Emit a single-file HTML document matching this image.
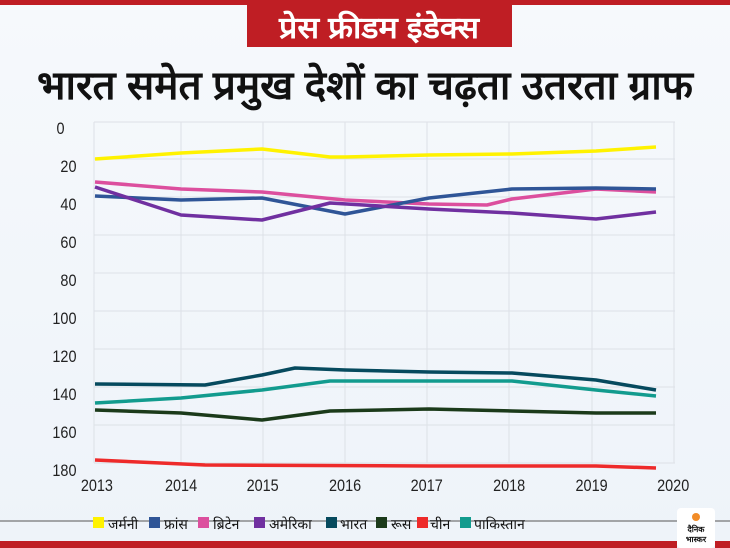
<!DOCTYPE html>
<html><head><meta charset="utf-8"><style>
body{margin:0;width:730px;height:548px;background:#f1f5fa;overflow:hidden;position:relative;font-family:"Liberation Sans","Noto Sans CJK SC",sans-serif}
</style></head><body>
<svg width="730" height="548" style="position:absolute;left:0;top:0" font-family="Liberation Sans, Noto Sans CJK SC, sans-serif">
<defs><linearGradient id="bg" x1="0" y1="0" x2="0" y2="1"><stop offset="0" stop-color="#f6f9fc"/><stop offset="1" stop-color="#eef3f9"/></linearGradient></defs>
<rect width="730" height="548" fill="url(#bg)"/>
<rect x="0" y="0" width="730" height="5" fill="#bf1e24"/>
<rect x="247" y="5" width="265" height="42" fill="#bf1e24"/>
<text x="379" y="38" font-size="30" font-weight="bold" fill="#fff" text-anchor="middle" textLength="200" lengthAdjust="spacingAndGlyphs">प्रेस फ्रीडम इंडेक्स</text>
<text x="365" y="99" font-size="40" font-weight="bold" fill="#111" text-anchor="middle" textLength="656" lengthAdjust="spacingAndGlyphs">भारत समेत प्रमुख देशों का चढ़ता उतरता ग्राफ</text>
<g stroke="#dde1e7" stroke-width="1">
<line x1="94" y1="122" x2="675" y2="122"/><line x1="94" y1="159" x2="675" y2="159"/><line x1="94" y1="197" x2="675" y2="197"/><line x1="94" y1="235" x2="675" y2="235"/><line x1="94" y1="273" x2="675" y2="273"/><line x1="94" y1="311" x2="675" y2="311"/><line x1="94" y1="349" x2="675" y2="349"/><line x1="94" y1="387" x2="675" y2="387"/><line x1="94" y1="425" x2="675" y2="425"/><line x1="94" y1="463" x2="675" y2="463"/>
<line x1="94" y1="122" x2="94" y2="463"/><line x1="181" y1="122" x2="181" y2="463"/><line x1="263" y1="122" x2="263" y2="463"/><line x1="345" y1="122" x2="345" y2="463"/><line x1="427" y1="122" x2="427" y2="463"/><line x1="509" y1="122" x2="509" y2="463"/><line x1="592" y1="122" x2="592" y2="463"/><line x1="674" y1="122" x2="674" y2="463"/>
</g>
<g font-size="17" fill="#222" text-anchor="end" transform="scale(0.85,1)">
<text x="76" y="134">0</text><text x="90" y="172">20</text><text x="90" y="210">40</text><text x="90" y="248">60</text><text x="90" y="286">80</text><text x="90" y="324">100</text><text x="90" y="362">120</text><text x="90" y="400">140</text><text x="90" y="438">160</text><text x="90" y="476">180</text>
</g>
<g font-size="17" fill="#222" text-anchor="middle" transform="scale(0.85,1)">
<text x="114" y="491">2013</text><text x="213" y="491">2014</text><text x="309" y="491">2015</text><text x="406" y="491">2016</text><text x="502" y="491">2017</text><text x="599" y="491">2018</text><text x="696" y="491">2019</text><text x="792" y="491">2020</text>
</g>
<g fill="none" stroke-width="3.5" stroke-linejoin="round">
<polyline stroke="#fff200" points="95,159 181,153 262,149 330,157 345,157 429,155 512,154 596,151 656,147"/>
<polyline stroke="#dc4f9e" points="95,182 181,189 262,192 345,200 429,204 487,205 512,199 596,189 656,192"/>
<polyline stroke="#2f5597" points="95,196 181,200 262,198 345,214 429,198 512,189 596,188 656,189"/>
<polyline stroke="#7030a0" points="95,187 181,215 262,220 330,203 429,209 512,213 596,219 656,212"/>
<polyline stroke="#064a5e" points="95,384 205,385 262,375 295,368 345,370 429,372 512,373 596,380 656,390"/>
<polyline stroke="#129b8e" points="95,403 181,398 262,390 330,381 429,381 512,381 596,390 656,396"/>
<polyline stroke="#1b3a1a" points="95,410 181,413 262,420 330,411 429,409 512,411 596,413 656,413"/>
<polyline stroke="#ee2a2a" points="95,460 205,465 429,466 596,466 656,468"/>
</g>
<line x1="0" y1="521" x2="730" y2="521" stroke="#555" stroke-width="1"/>
<g font-size="14" fill="#111">
<rect x="93" y="517" width="11" height="11" fill="#fff200"/><text x="108" y="529">जर्मनी</text>
<rect x="149" y="517" width="11" height="11" fill="#2f5597"/><text x="164" y="529">फ्रांस</text>
<rect x="198" y="517" width="11" height="11" fill="#dc4f9e"/><text x="213" y="529">ब्रिटेन</text>
<rect x="254" y="517" width="11" height="11" fill="#7030a0"/><text x="269" y="529">अमेरिका</text>
<rect x="326" y="517" width="11" height="11" fill="#064a5e"/><text x="340" y="529">भारत</text>
<rect x="376" y="517" width="11" height="11" fill="#1b3a1a"/><text x="391" y="529">रूस</text>
<rect x="417" y="517" width="11" height="11" fill="#ee2a2a"/><text x="430" y="529">चीन</text>
<rect x="460" y="517" width="11" height="11" fill="#129b8e"/><text x="474" y="529">पाकिस्तान</text>
</g>
<rect x="677" y="508" width="38" height="40" rx="4" fill="#fff"/>
<circle cx="696" cy="517" r="4" fill="#f28c28"/>
<text x="696" y="532" font-size="8" font-weight="bold" text-anchor="middle" fill="#111">दैनिक</text>
<text x="696" y="542" font-size="8" font-weight="bold" text-anchor="middle" fill="#111">भास्कर</text>
<rect x="0" y="541" width="677" height="7" fill="#bf1e24"/>
<rect x="715" y="541" width="15" height="7" fill="#bf1e24"/>
</svg>
</body></html>
